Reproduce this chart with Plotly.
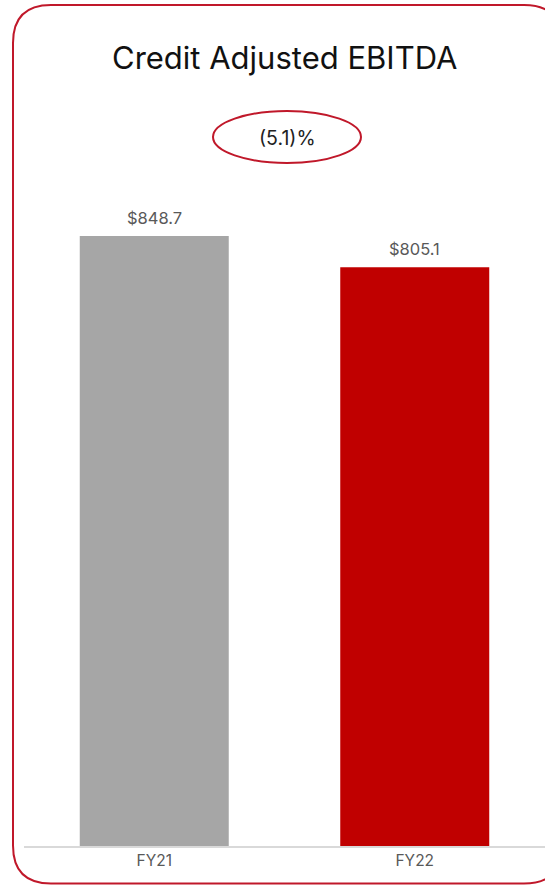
import plotly.graph_objects as go

# Figure data
categories = ["FY21", "FY22"]
values = [848.7, 805.1]
value_labels = ["$848.7", "$805.1"]
bar_colors = ["#A6A6A6", "#C00000"]
title_text = "Credit Adjusted EBITDA"
change_text = "(5.1)%"

W, H = 545, 886
ML, MR, MT, MB = 24, 0, 0, 40
PW, PH = W - ML - MR, H - MT - MB


def px(x):
    return (x - ML) / PW


def py(y):
    return (H - MB - y) / PH


fig = go.Figure(
    go.Bar(
        x=categories,
        y=values,
        marker=dict(color=bar_colors, line=dict(width=0)),
        width=0.572,
        hoverinfo="skip",
    )
)

# rounded outline of the card
L, T, R, B, r = 13, 5, 562, 883.5, 38
path = (
    f"M {px(L + r)},{py(T)} L {px(R - r)},{py(T)} "
    f"Q {px(R)},{py(T)} {px(R)},{py(T + r)} "
    f"L {px(R)},{py(B - r)} Q {px(R)},{py(B)} {px(R - r)},{py(B)} "
    f"L {px(L + r)},{py(B)} Q {px(L)},{py(B)} {px(L)},{py(B - r)} "
    f"L {px(L)},{py(T + r)} Q {px(L)},{py(T)} {px(L + r)},{py(T)} Z"
)
shapes = [
    dict(type="path", xref="paper", yref="paper", path=path,
         line=dict(color="#C0182A", width=2), fillcolor="rgba(0,0,0,0)", layer="above"),
    dict(type="circle", xref="paper", yref="paper",
         x0=px(213), x1=px(361), y0=py(163), y1=py(111),
         line=dict(color="#C0182A", width=2), fillcolor="rgba(0,0,0,0)"),
]

annotations = [
    dict(text=title_text, xref="paper", yref="paper", x=px(284), y=py(58),
         showarrow=False, font=dict(size=31, color="#111111", family="Inter"),
         xanchor="center", yanchor="middle"),
    dict(text=change_text, xref="paper", yref="paper", x=px(287), y=py(138),
         showarrow=False, font=dict(size=19.5, color="#222222", family="Inter"),
         xanchor="center", yanchor="middle"),
]
# value labels sitting above each bar
for cat, val, lab in zip(categories, values, value_labels):
    annotations.append(dict(
        text=lab, x=cat, y=val, xref="x", yref="y", showarrow=False,
        yanchor="middle", yshift=18,
        font=dict(size=16.5, color="#595959", family="Inter"),
    ))

fig.update_layout(
    width=W, height=H,
    margin=dict(l=ML, r=MR, t=MT, b=MB, pad=0),
    paper_bgcolor="white", plot_bgcolor="white",
    showlegend=False,
    shapes=shapes,
    annotations=annotations,
    xaxis=dict(
        range=[-0.5, 1.5],
        showline=True, linecolor="#D9D9D9", linewidth=1.5,
        showgrid=False, zeroline=False, ticks="",
        tickfont=dict(size=15.5, color="#595959", family="Inter"),
    ),
    yaxis=dict(range=[0, 1177], visible=False, showgrid=False, zeroline=False),
)

fig.write_html("out.html")
